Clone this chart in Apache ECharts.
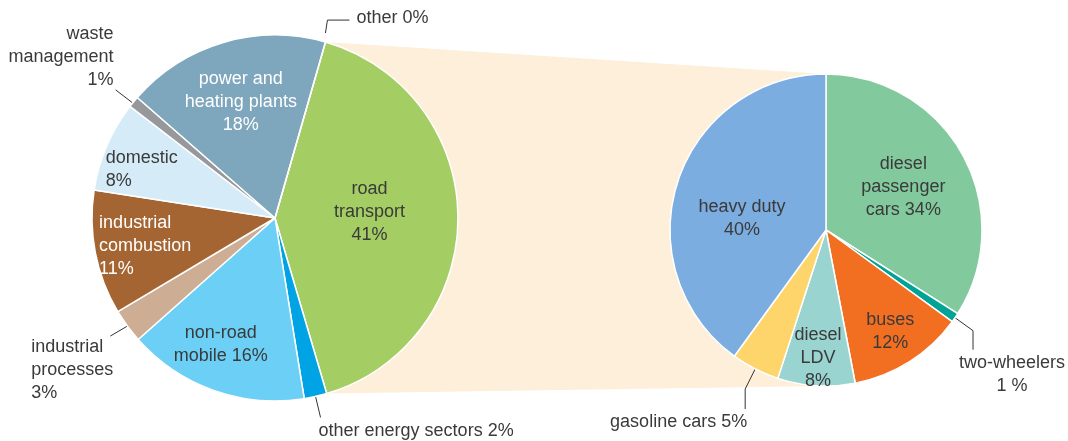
<!DOCTYPE html>
<html>
<head>
<meta charset="utf-8" />
</head>
<body style="margin: 0; background: #fff">
<div id="container" style="width: 1068px; height: 441px"></div>
<script src="https://cdn.jsdelivr.net/npm/echarts@6/dist/echarts.min.js"></script>
<script>
// emission sources (left pie), clockwise from the road transport edge
var leftNames = ['road transport', 'other energy sectors', 'non-road mobile', 'industrial processes',
  'industrial combustion', 'domestic', 'waste management', 'power and heating plants', 'other'];
var leftValues = [41, 2, 16, 3, 11, 8, 1, 18, 0];
var leftLabels = ['road\ntransport\n{c}%', 'other energy sectors {c}%', 'non-road\nmobile {c}%',
  'industrial\nprocesses\n{c}%', 'industrial\ncombustion\n{c}%', 'domestic\n{c}%',
  'waste\nmanagement\n{c}%', 'power and\nheating plants\n{c}%', 'other {c}%'];
var leftColors = ['#a4cd63', '#00a4e4', '#6ccff6', '#cdae95', '#a46533', '#d5ebf8', '#97989b', '#7ea6bc', '#7ea6bc'];

// road transport breakdown (right pie), clockwise from top
var rightNames = ['diesel passenger cars', 'two-wheelers', 'buses', 'diesel LDV', 'gasoline cars', 'heavy duty'];
var rightValues = [34, 1, 12, 8, 5, 40];
var rightLabels = ['diesel\npassenger\ncars {c}%', 'two-wheelers\n{c} %', 'buses\n{c}%', 'diesel\nLDV\n{c}%',
  'gasoline cars {c}%', 'heavy duty\n{c}%'];
var rightColors = ['#82ca9d', '#00a497', '#f26f22', '#9ad4d1', '#fdd56a', '#7bade0'];

var leftCenter = [275, 218];
var rightCenter = [826, 230];

// label placement: k = radial factor for inside labels, line/at = leader line offsets for outside ones
var leftPlace = [
  { k: 1.0, dy: -6 },
  { line: [[0, 0], [5, 21]], at: [3, 35], align: 'left', va: 'middle' },
  { k: 1.46, dx: -8, dy: -3 },
  { line: [[0, 0], [-17, 10]], at: [-96, 9], align: 'left', va: 'top' },
  { k: 1.4, dy: 3, align: 'left', color: '#fff' },
  { k: 1.5, dx: -3, dy: 7, align: 'left' },
  { line: [[-1, 1], [-18, -12]], at: [-20, -10], align: 'right', va: 'bottom' },
  { k: 1.28, color: '#fff' },
  { line: [[0, -9], [2, -22], [24, -22]], at: [31, -24], align: 'left', va: 'middle' }
];
var rightPlace = [
  { k: 1.09 },
  { line: [[0, 0], [18, 13], [18, 32]], at: [57, 34], align: 'center', va: 'top' },
  { k: 1.48 },
  { k: 1.58 },
  { line: [[0, 0], [-10, 20], [-10, 40]], at: [-8, 53], align: 'right', va: 'middle' },
  { k: 1.09, dy: 16 }
];

var font = { fontFamily: 'Liberation Sans, Arial, sans-serif', fontSize: 18, lineHeight: 23, color: '#3a3a3a' };

function makeLayout(center, place) {
  return function (params) {
    var p = place[params.dataIndex];
    var rc = params.labelRect;
    if (p.line) {
      var pts = params.labelLinePoints;
      if (!pts) return {};
      var p0 = pts[0];
      return {
        x: p0[0] + p.at[0],
        y: p0[1] + p.at[1],
        align: p.align,
        verticalAlign: p.va,
        labelLinePoints: p.line.map(function (d) { return [p0[0] + d[0], p0[1] + d[1]]; })
      };
    }
    var mx = rc.x + rc.width / 2, my = rc.y + rc.height / 2;
    var cx = center[0] + (mx - center[0]) * p.k + (p.dx || 0);
    var cy = center[1] + (my - center[1]) * p.k + (p.dy || 0);
    if (p.align === 'left') {
      return { x: cx - rc.width / 2, y: cy, align: 'left', verticalAlign: 'middle' };
    }
    return { x: cx, y: cy, align: 'center', verticalAlign: 'middle' };
  };
}

function buildData(names, values, labels, colors, place) {
  return names.map(function (n, i) {
    var p = place[i];
    return {
      name: n,
      value: values[i],
      itemStyle: { color: colors[i] },
      label: { position: p.line ? 'outside' : 'inside', formatter: labels[i], color: p.color || '#3a3a3a' },
      labelLine: { show: !!p.line }
    };
  });
}

var dom = document.getElementById('container');
var myChart = echarts.init(dom, null, { renderer: 'canvas' });

var option = {
  animation: false,
  series: [
    {
      type: 'pie',
      center: leftCenter,
      radius: 183,
      startAngle: 74,
      clockwise: true,
      avoidLabelOverlap: false,
      emphasis: { disabled: true },
      itemStyle: { borderColor: '#fff', borderWidth: 1.5 },
      label: font,
      labelLine: { length: 10, length2: 10, lineStyle: { color: '#333', width: 1 } },
      labelLayout: makeLayout(leftCenter, leftPlace),
      data: buildData(leftNames, leftValues, leftLabels, leftColors, leftPlace)
    },
    {
      type: 'pie',
      center: rightCenter,
      radius: 156,
      startAngle: 90,
      clockwise: true,
      avoidLabelOverlap: false,
      emphasis: { disabled: true },
      itemStyle: { borderColor: '#fff', borderWidth: 1.5 },
      label: font,
      labelLine: { length: 10, length2: 10, lineStyle: { color: '#333', width: 1 } },
      labelLayout: makeLayout(rightCenter, rightPlace),
      data: buildData(rightNames, rightValues, rightLabels, rightColors, rightPlace)
    }
  ]
};
myChart.setOption(option);

// beige band from the road transport slice to the breakdown pie
var model = myChart.getModel();
var l = model.getSeriesByIndex(0).getData().getItemLayout(0);
var r = model.getSeriesByIndex(1).getData().getItemLayout(0);
function edge(L, a) { return [L.cx + L.r * Math.cos(a), L.cy + L.r * Math.sin(a)]; }
myChart.setOption({
  graphic: [{
    type: 'polygon',
    silent: true,
    z: 0,
    shape: { points: [edge(l, l.startAngle), [r.cx, r.cy - r.r], [r.cx, r.cy + r.r], edge(l, l.endAngle)] },
    style: { fill: '#fdefd9' }
  }]
});

window.addEventListener('resize', myChart.resize);
</script>
</body>
</html>
